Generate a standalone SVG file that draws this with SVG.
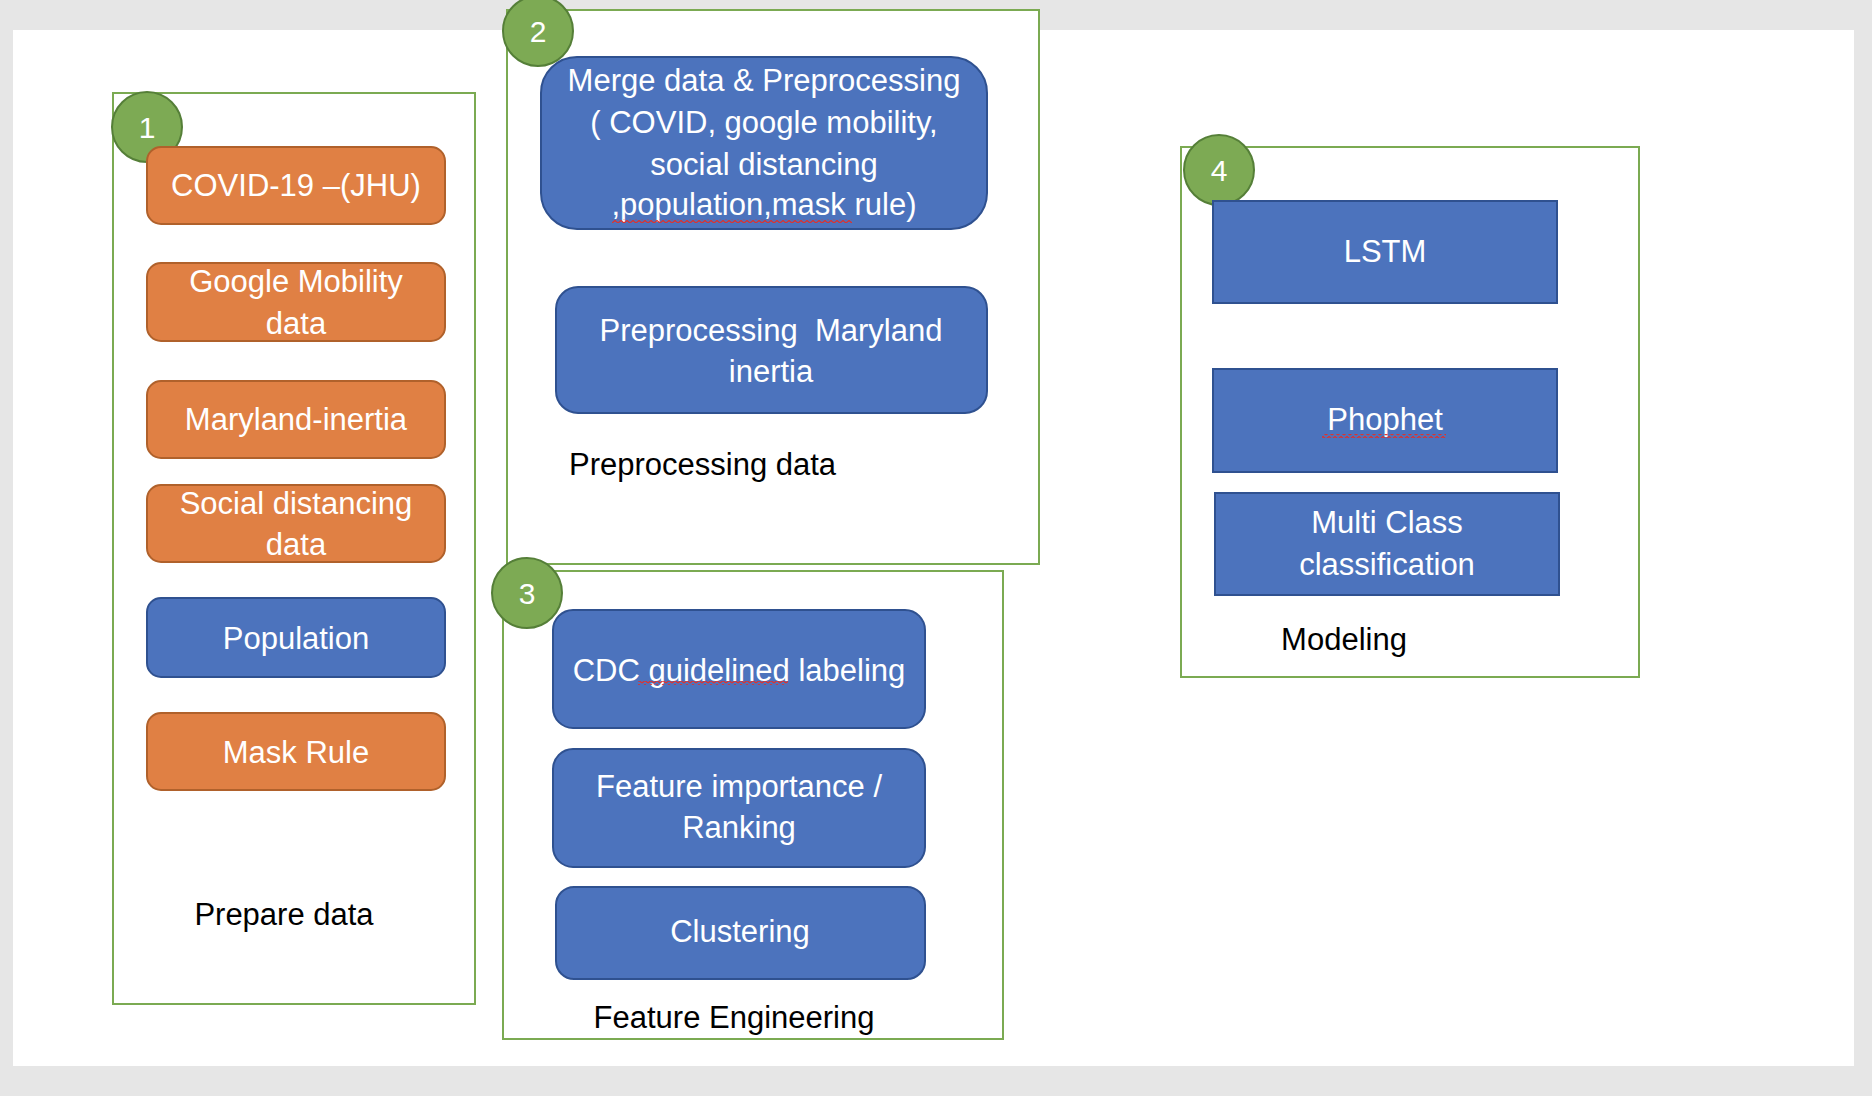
<svg xmlns="http://www.w3.org/2000/svg" width="1872" height="1096" viewBox="0 0 1872 1096">
<defs>
<style>
.page{fill:#ffffff}
.grp{fill:#ffffff;stroke:#7BAA52;stroke-width:2}
.org{fill:#E08044;stroke:#B0612B;stroke-width:2}
.blu{fill:#4C73BD;stroke:#2F5190;stroke-width:2}
.badge{fill:#7DAA54;stroke:#557F38;stroke-width:2}
.wt{font-family:"Liberation Sans",Arial,sans-serif;font-size:31px;fill:#ffffff;text-anchor:middle}
.bt{font-family:"Liberation Sans",Arial,sans-serif;font-size:31px;fill:#000000}
.num{font-family:"Liberation Sans",Arial,sans-serif;font-size:30px;fill:#ffffff;text-anchor:middle}
</style>
<pattern id="zz" width="6" height="4" patternUnits="userSpaceOnUse">
<path d="M0,3 L3,0.5 L6,3" fill="none" stroke="#E0302A" stroke-width="1.2"/>
</pattern>
</defs>
<rect width="1872" height="1096" fill="#E6E6E6"/>
<rect class="page" x="13" y="30" width="1841" height="1036"/>

<g id="connectors"></g>

<g id="group1">
<rect class="grp" x="113" y="93" width="362" height="911"/>
<circle class="badge" cx="147" cy="127" r="35"/>
<text class="num" x="147" y="138">1</text>
<text class="bt" x="284" y="925" text-anchor="middle">Prepare data</text>
</g>
<g id="n-covid">
<rect class="org" x="147" y="147" width="298" height="77" rx="14"/>
<text class="wt" x="296" y="196">COVID-19 –(JHU)</text>
</g>
<g id="n-google">
<rect class="org" x="147" y="263" width="298" height="78" rx="14"/>
<text class="wt" x="296" y="292">Google Mobility</text>
<text class="wt" x="296" y="334">data</text>
</g>
<g id="n-maryland">
<rect class="org" x="147" y="381" width="298" height="77" rx="14"/>
<text class="wt" x="296" y="430">Maryland-inertia</text>
</g>
<g id="n-social">
<rect class="org" x="147" y="485" width="298" height="77" rx="14"/>
<text class="wt" x="296" y="514">Social distancing</text>
<text class="wt" x="296" y="555">data</text>
</g>
<g id="n-population">
<rect class="blu" x="147" y="598" width="298" height="79" rx="14"/>
<text class="wt" x="296" y="649">Population</text>
</g>
<g id="n-mask">
<rect class="org" x="147" y="713" width="298" height="77" rx="14"/>
<text class="wt" x="296" y="763">Mask Rule</text>
</g>

<g id="group2">
<rect class="grp" x="507" y="10" width="532" height="554"/>
<circle class="badge" cx="538" cy="31" r="35"/>
<text class="num" x="538" y="42">2</text>
<text class="bt" x="569" y="475">Preprocessing data</text>
</g>
<g id="n-merge">
<rect class="blu" x="541" y="57" width="446" height="172" rx="36"/>
<text class="wt" x="764" y="91">Merge data &amp; Preprocessing</text>
<text class="wt" x="764" y="133">( COVID, google mobility,</text>
<text class="wt" x="764" y="175">social distancing</text>
<text class="wt" x="764" y="215">,population,mask rule)</text>
<rect x="612" y="219" width="240" height="4" fill="url(#zz)"/>
</g>
<g id="n-prepmd">
<rect class="blu" x="556" y="287" width="431" height="126" rx="22"/>
<text class="wt" x="771" y="341" style="white-space:pre" xml:space="preserve">Preprocessing  Maryland</text>
<text class="wt" x="771" y="382">inertia</text>
</g>

<g id="group3">
<rect class="grp" x="503" y="571" width="500" height="468"/>
<circle class="badge" cx="527" cy="593" r="35"/>
<text class="num" x="527" y="604">3</text>
<text class="bt" x="734" y="1028" text-anchor="middle">Feature Engineering</text>
</g>
<g id="n-cdc">
<rect class="blu" x="553" y="610" width="372" height="118" rx="20"/>
<text class="wt" x="739" y="681">CDC guidelined labeling</text>
<rect x="638" y="681" width="150" height="4" fill="url(#zz)"/>
</g>
<g id="n-feature">
<rect class="blu" x="553" y="749" width="372" height="118" rx="20"/>
<text class="wt" x="739" y="797">Feature importance /</text>
<text class="wt" x="739" y="838">Ranking</text>
</g>
<g id="n-cluster">
<rect class="blu" x="556" y="887" width="369" height="92" rx="18"/>
<text class="wt" x="740" y="942">Clustering</text>
</g>

<g id="group4">
<rect class="grp" x="1181" y="147" width="458" height="530"/>
<circle class="badge" cx="1219" cy="170" r="35"/>
<text class="num" x="1219" y="181">4</text>
<text class="bt" x="1344" y="650" text-anchor="middle">Modeling</text>
</g>
<g id="n-lstm">
<rect class="blu" x="1213" y="201" width="344" height="102"/>
<text class="wt" x="1385" y="262">LSTM</text>
</g>
<g id="n-prophet">
<rect class="blu" x="1213" y="369" width="344" height="103"/>
<text class="wt" x="1385" y="430">Phophet</text>
<rect x="1322" y="434" width="124" height="4" fill="url(#zz)"/>
</g>
<g id="n-multi">
<rect class="blu" x="1215" y="493" width="344" height="102"/>
<text class="wt" x="1387" y="533">Multi Class</text>
<text class="wt" x="1387" y="575">classification</text>
</g>
</svg>
